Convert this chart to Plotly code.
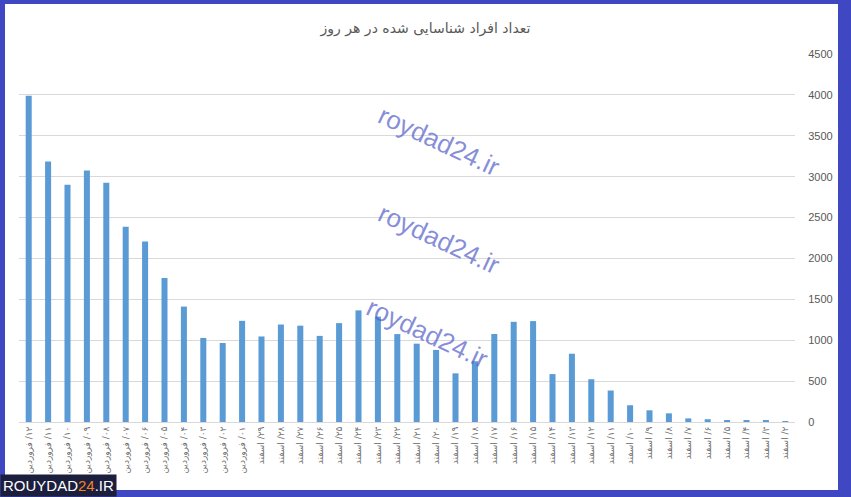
import plotly.graph_objects as go

# bars run left to right from 12 Farvardin back to 2 Esfand
farvardin_days = ['۱۲', '۱۱', '۱۰', '۰۹', '۰۸', '۰۷', '۰۶', '۰۵', '۰۴', '۰۳', '۰۲', '۰۱']
esfand_days = ['۲۹', '۲۸', '۲۷', '۲۶', '۲۵', '۲۴', '۲۳', '۲۲', '۲۱', '۲۰', '۱۹', '۱۸', '۱۷', '۱۶',
               '۱۵', '۱۴', '۱۳', '۱۲', '۱۱', '۱۰', '۹', '۸', '۷', '۶', '۵', '۴', '۳', '۲']

farvardin_cases = [3990, 3186, 2901, 3076, 2926, 2389, 2206, 1762, 1411, 1028, 966, 1237]
esfand_cases = [1046, 1192, 1178, 1053, 1209, 1365, 1289, 1075, 958, 881, 595, 743, 1076, 1225,
                1234, 586, 835, 523, 385, 205, 143, 106, 44, 34, 18, 15, 13, 10]

title_text = 'تعداد افراد شناسایی شده در هر روز'
watermark = 'roydad24.ir'

labels = ['\u200f' + d + '/ فروردین' for d in farvardin_days] + \
         ['\u200f' + d + '/ اسفند' for d in esfand_days]
values = farvardin_cases + esfand_cases

W, H = 851, 497
L, R, T, B = 19, 56, 54, 75
pw, ph = W - L - R, H - T - B


def px(x):
    return (x - L) / pw


def py(y):
    return (H - B - y) / ph


fig = go.Figure(go.Bar(
    x=labels,
    y=values,
    marker=dict(color='#5B9BD5', line=dict(width=0)),
    hoverinfo='x+y'
))

# blue frame: blue paper with a white panel inside
fig.add_shape(type='rect', xref='paper', yref='paper', layer='below',
              x0=px(5), x1=px(838), y0=py(490), y1=py(4),
              fillcolor='white', line=dict(width=0))

for cx, cy in [(439, 97), (439, 239), (427, 377)]:
    fig.add_annotation(x=px(cx), y=py(cy), xref='paper', yref='paper',
                       text=watermark, showarrow=False, textangle=25,
                       font=dict(family='Liberation Sans', size=26, color='rgba(80,92,200,0.7)'))

fig.add_annotation(x=px(0), y=py(497), xref='paper', yref='paper',
                   xanchor='left', yanchor='bottom', showarrow=False,
                   text="ROUYDAD<span style='color:#F5821F'>24</span>.IR",
                   bgcolor='#1B1E3C', borderpad=2,
                   font=dict(family='Liberation Sans', size=15, color='white'))

fig.update_layout(
    width=W, height=H,
    margin=dict(l=L, r=R, t=T, b=B),
    paper_bgcolor='#3F47C2',
    plot_bgcolor='white',
    bargap=0.69,
    showlegend=False,
    title=dict(text=title_text, x=0.5, xref='container', y=1 - 28 / H, yanchor='middle',
               font=dict(family='DejaVu Sans', size=14, color='#595959')),
    xaxis=dict(
        type='category',
        tickangle=-90,
        tickfont=dict(family='DejaVu Sans', size=9, color='#6F6F6F'),
        showgrid=False,
        showline=True, linecolor='#D9D9D9', linewidth=1,
        ticks=''
    ),
    yaxis=dict(
        side='right',
        range=[0, 4500],
        dtick=500,
        gridcolor='#D9D9D9',
        zeroline=False,
        ticks='outside', ticklen=10, tickcolor='rgba(0,0,0,0)',
        tickfont=dict(family='Liberation Sans', size=11, color='#595959')
    )
)

# drop the browser's default page margin so the figure sits at the window corner
fig.write_html('out.html', config={'displayModeBar': False},
               post_script="document.body.style.margin='0';")
